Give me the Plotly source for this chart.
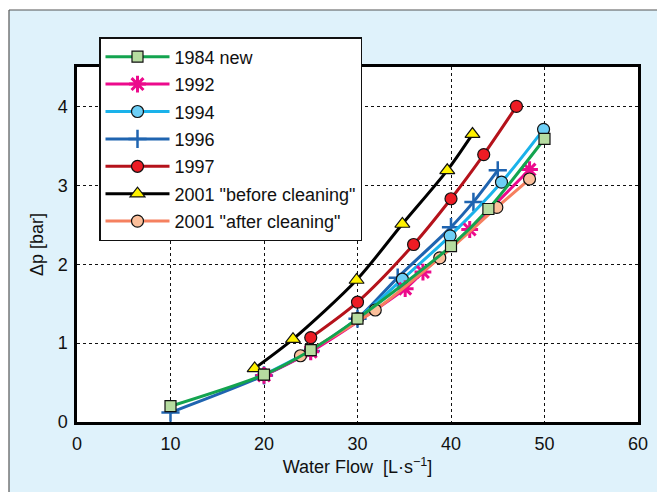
import plotly.graph_objects as go

# ---- data ----
x_1984 = [10, 20, 25, 30, 40, 44, 50]
y_1984 = [0.20, 0.60, 0.91, 1.31, 2.23, 2.70, 3.59]

x_1992 = [20, 25, 35.1, 37, 42, 48.4]
y_1992 = [0.59, 0.89, 1.69, 1.90, 2.44, 3.20]

x_1994 = [20, 25, 30, 34.8, 39.9, 45.4, 49.9]
y_1994 = [0.60, 0.91, 1.31, 1.81, 2.36, 3.04, 3.71]

x_1996 = [10, 20, 25, 30, 34.3, 40, 42.4, 45]
y_1996 = [0.12, 0.59, 0.90, 1.31, 1.83, 2.47, 2.79, 3.19]

x_1997 = [25, 30, 36, 40, 43.5, 47]
y_1997 = [1.07, 1.52, 2.25, 2.83, 3.39, 4.00]

x_2001b = [19, 23.1, 29.9, 34.8, 39.6, 42.3]
y_2001b = [0.68, 1.05, 1.80, 2.51, 3.19, 3.65]

x_2001a = [23.9, 31.9, 38.8, 44.9, 48.4]
y_2001a = [0.84, 1.42, 2.08, 2.72, 3.08]

x_ticks = [0, 10, 20, 30, 40, 50, 60]
y_ticks = [0, 1, 2, 3, 4]

FONT = "Liberation Sans, Arial, Helvetica, sans-serif"
FS = 18

fig = go.Figure()

def add(name, xs, ys, lcolor, symbol, mfill, msize, mline_color, mline_w, rank, lw=3):
    fig.add_trace(go.Scatter(
        x=xs, y=ys, name=name, mode="lines+markers",
        line=dict(color=lcolor, width=lw, shape="spline", smoothing=0.8),
        marker=dict(symbol=symbol, size=msize, color=mfill,
                    line=dict(color=mline_color, width=mline_w)),
        legendrank=rank, legendgroup=name,
    ))

# drawing order (bottom -> top)
add("1996", x_1996, y_1996, "#1f64b0", "cross-thin-open", "#1f64b0", 13, "#1f64b0", 2.5, 4)
add("1994", x_1994, y_1994, "#1ab2ea", "circle", "#6dcff6", 12, "#111111", 1.2, 3)
add("1992", x_1992, y_1992, "#ec0a8c", "asterisk-open", "#ec0a8c", 14, "#ec0a8c", 3, 2)
add('2001 "after cleaning"', x_2001a, y_2001a, "#f5805f", "circle", "#fbbf9b", 12, "#111111", 1.2, 7)
add("1997", x_1997, y_1997, "#b5121b", "circle", "#ed1c24", 12, "#111111", 1.2, 5)
add('2001 "before cleaning"', x_2001b, y_2001b, "#000000", "triangle-up", "#fff200", 13, "#111111", 1.2, 6)
add("1984 new", x_1984, y_1984, "#13a44f", "square", "#b6dca0", 11, "#111111", 1.2, 1)

# plot geometry in pixels
W, H = 657, 492
L, R, T, B = 77, 638, 67, 422
pw, ph = R - L, B - T

def px(xp):
    return (xp - L) / pw

def py(yp):
    return (B - yp) / ph

bg_blue = "#dff2fb"
shapes = [
    dict(type="rect", xref="paper", yref="paper", x0=-0.5, x1=1.5, y0=py(10), y1=1.5,
         fillcolor="white", line=dict(width=0), layer="below"),
    dict(type="rect", xref="paper", yref="paper", x0=-0.5, x1=px(9), y0=-0.5, y1=1.5,
         fillcolor="white", line=dict(width=0), layer="below"),
    dict(type="line", xref="paper", yref="paper", x0=px(9), x1=1.5, y0=py(10), y1=py(10),
         line=dict(color="#555555", width=1.2), layer="below"),
    dict(type="line", xref="paper", yref="paper", x0=px(9), x1=px(9), y0=-0.5, y1=py(10),
         line=dict(color="#555555", width=1.2), layer="below"),
]

fig.update_layout(
    width=W, height=H,
    margin=dict(l=L, r=W - R, t=T, b=H - B, pad=0, autoexpand=False),
    paper_bgcolor=bg_blue, plot_bgcolor="white",
    font=dict(family=FONT, size=FS, color="#111111"),
    shapes=shapes,
    showlegend=True,
    legend=dict(
        x=px(99), y=py(37), xanchor="left", yanchor="top",
        bgcolor="white", bordercolor="#111111", borderwidth=1.5,
        font=dict(family=FONT, size=FS, color="#111111"),
        itemwidth=64, tracegroupgap=1, traceorder="grouped",
        itemsizing="trace",
    ),
    xaxis=dict(
        range=[0, 60], tickvals=x_ticks, ticktext=[str(v) for v in x_ticks],
        showgrid=True, gridcolor="#111111", griddash="dot", gridwidth=1,
        showline=True, linecolor="#000000", linewidth=2.5, mirror=True,
        ticks="", ticklabelstandoff=4, zeroline=False,
        title=dict(text="Water Flow  [L·s<sup>−1</sup>]", standoff=8,
                   font=dict(family=FONT, size=FS)),
    ),
    yaxis=dict(
        range=[0, 4.5], tickvals=y_ticks, ticktext=[str(v) for v in y_ticks],
        showgrid=True, gridcolor="#111111", griddash="dot", gridwidth=1,
        showline=True, linecolor="#000000", linewidth=2.5, mirror=True,
        ticks="", ticklabelstandoff=3, zeroline=False,
        title=dict(text="Δp [bar]", standoff=10, font=dict(family=FONT, size=FS)),
    ),
)

fig.write_html(
    "out.html",
    config={"displayModeBar": False},
    post_script=(
        "var st=document.createElement('style');"
        "st.textContent='html,body{margin:0;padding:0;overflow:hidden;background:%s;}"
        "::-webkit-scrollbar{display:none;width:0;height:0;}';"
        "document.head.appendChild(st);" % bg_blue
    ),
)
